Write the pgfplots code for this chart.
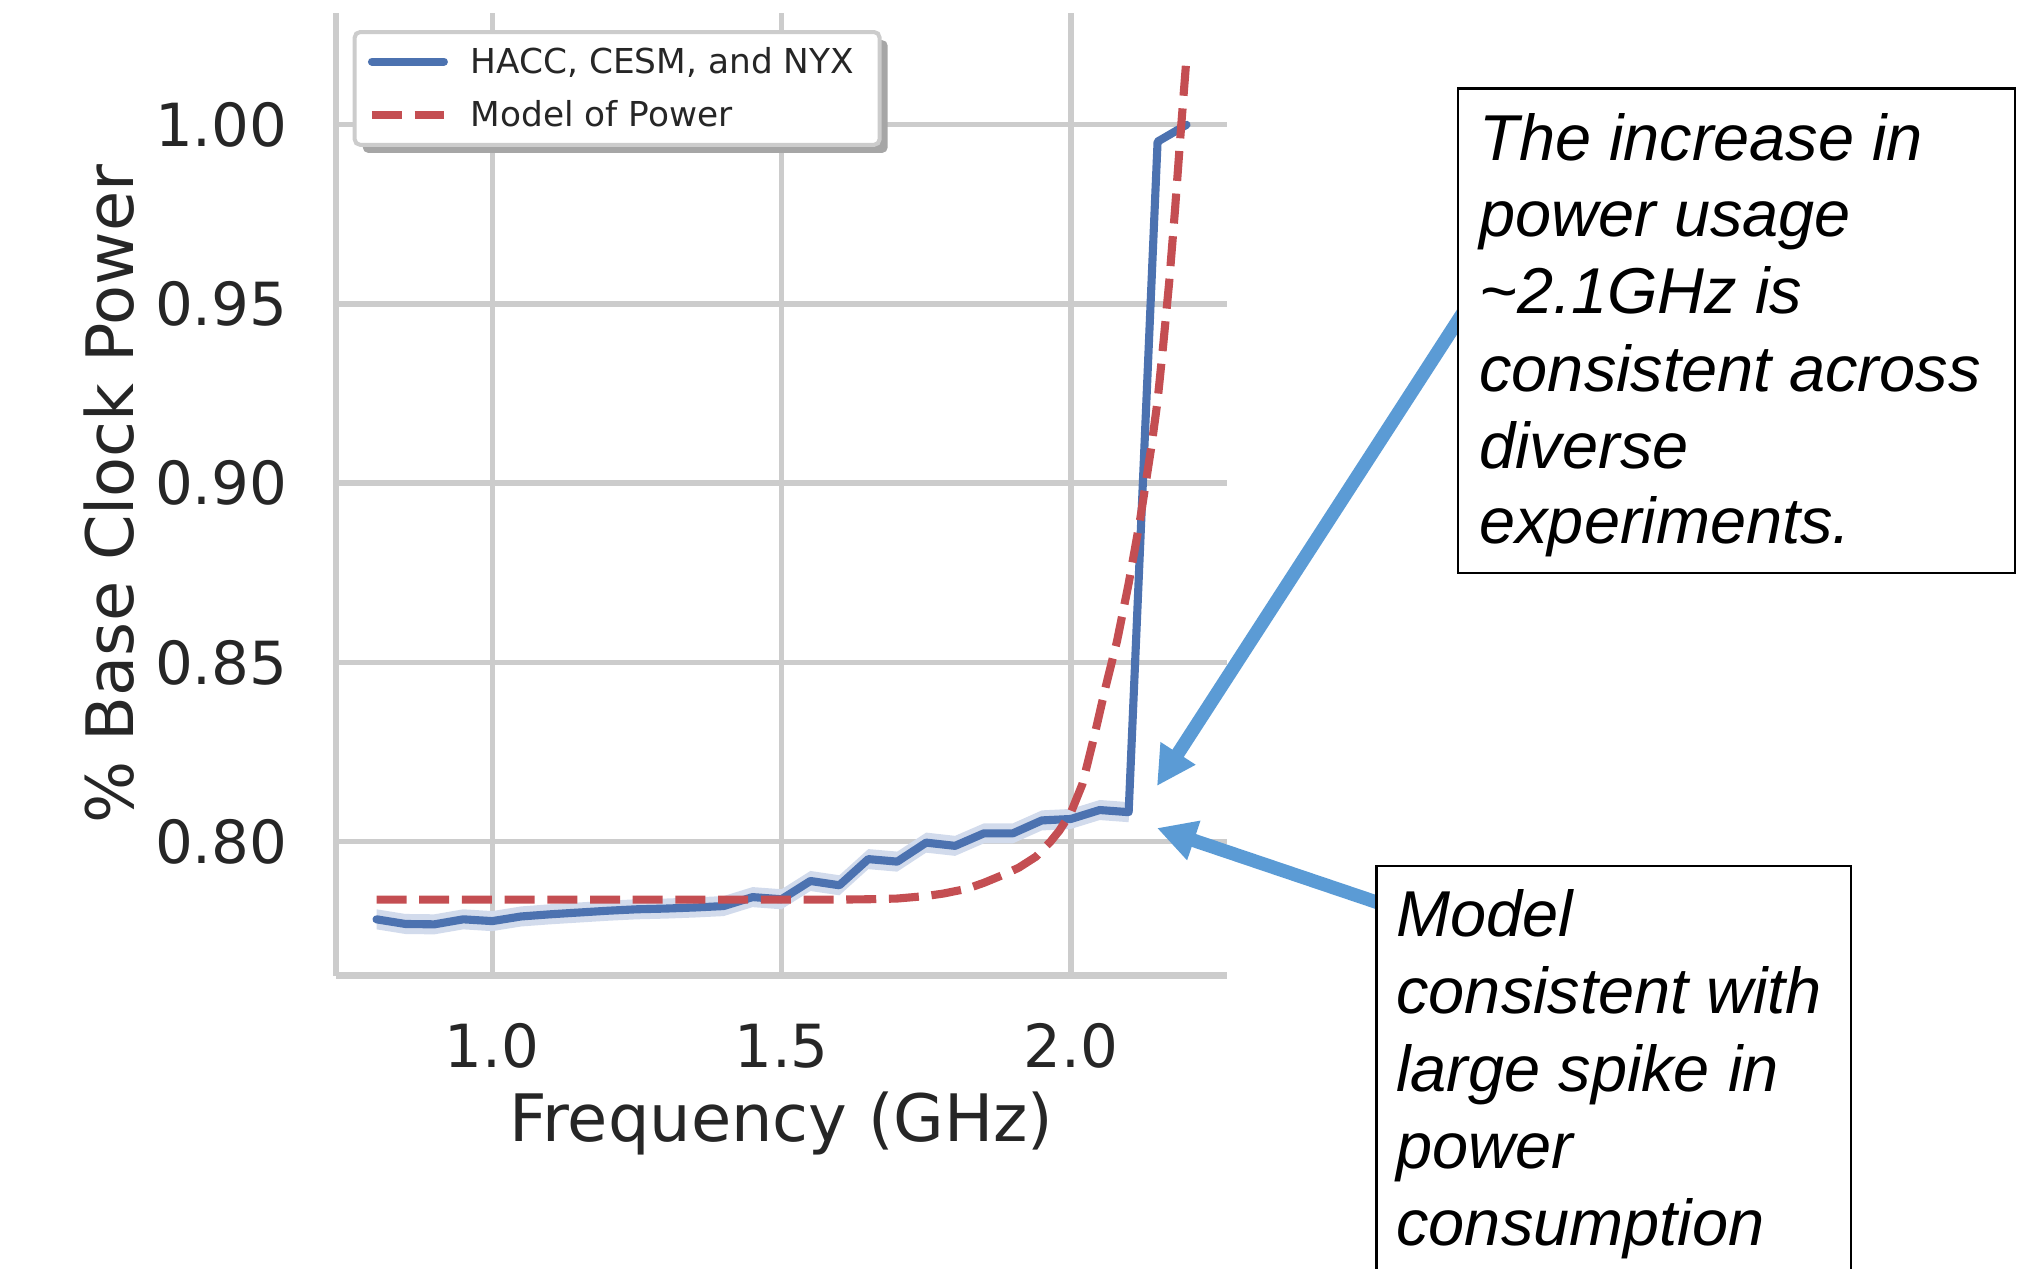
\documentclass[border=0pt]{standalone}
\usepackage{pgfplots}
\pgfplotsset{compat=1.18}
\usepackage{pgfplotstable}
\usepgfplotslibrary{fillbetween}
\usetikzlibrary{arrows.meta,shadows}
\usepackage{fontspec}
\setmainfont{DejaVu Sans}
\newfontfamily\annotfont{Liberation Sans}

\definecolor{sbblue}{HTML}{4C72B0}
\definecolor{sbred}{HTML}{C44E52}
\definecolor{gridc}{HTML}{CCCCCC}
\definecolor{txt}{HTML}{262626}
\definecolor{band}{HTML}{D2DBEC}
\definecolor{arrowc}{HTML}{5B9BD5}
\definecolor{shadowc}{HTML}{A6A6A6}

\makeatletter
\tikzset{nopre/.code={\let\tikz@preactions\pgfutil@empty}}
\makeatother

\pgfplotstableread{
x y lo hi
0.80 0.7783 0.7755 0.7811
0.85 0.7770 0.7742 0.7798
0.90 0.7769 0.7741 0.7797
0.95 0.7783 0.7755 0.7811
1.00 0.7778 0.7750 0.7806
1.05 0.7791 0.7763 0.7819
1.10 0.7797 0.7769 0.7825
1.15 0.7802 0.7774 0.7830
1.20 0.7807 0.7779 0.7835
1.25 0.7811 0.7783 0.7839
1.30 0.7813 0.7785 0.7841
1.35 0.7816 0.7788 0.7844
1.40 0.7820 0.7792 0.7848
1.45 0.7845 0.7817 0.7873
1.50 0.7839 0.7811 0.7867
1.55 0.7890 0.7862 0.7918
1.60 0.7878 0.7850 0.7906
1.65 0.7951 0.7923 0.7979
1.70 0.7944 0.7916 0.7972
1.75 0.7997 0.7969 0.8025
1.80 0.7988 0.7960 0.8016
1.85 0.8023 0.7995 0.8051
1.90 0.8023 0.7995 0.8051
1.95 0.8059 0.8031 0.8087
2.00 0.8063 0.8035 0.8091
2.05 0.8088 0.8060 0.8116
2.10 0.8082 0.8054 0.8110
2.15 0.9953 0.9943 0.9963
2.20 1.0000 0.9990 1.0010
}\measured

\pgfplotstableread{
x y
0.80 0.7838
1.00 0.7838
1.20 0.7838
1.40 0.7838
1.60 0.7838
1.65 0.7839
1.70 0.7841
1.75 0.7848
1.78 0.7855
1.82 0.7868
1.85 0.7885
1.88 0.7905
1.91 0.7927
1.94 0.7958
1.965 0.8000
1.98 0.8030
2.00 0.8080
2.02 0.8160
2.04 0.8290
2.06 0.8430
2.08 0.8560
2.10 0.8720
2.12 0.8900
2.14 0.9110
2.15 0.9230
2.16 0.9390
2.17 0.9560
2.18 0.9760
2.19 0.9980
2.20 1.0188
}\model

\begin{document}
\begin{tikzpicture}
\begin{axis}[
  at={(124.32bp,108.19bp)}, anchor=south west,
  scale only axis, width=329.67bp, height=356.16bp,
  xmin=0.73, xmax=2.27, ymin=0.7626, ymax=1.0312,
  axis lines*=left,
  axis line style={draw=gridc, line width=2.5bp},
  grid=major, major grid style={draw=gridc, line width=2bp},
  major tick length=0pt,
  xtick={1.0,1.5,2.0}, ytick={0.80,0.85,0.90,0.95,1.00},
  xticklabel={\pgfmathprintnumber[fixed,fixed zerofill,precision=1,assume math mode=true]{\tick}},
  yticklabel={\pgfmathprintnumber[fixed,fixed zerofill,precision=2,assume math mode=true]{\tick}},
  ticklabel style={font=\fontsize{22bp}{26bp}\selectfont, text=txt, inner sep=0pt},
  xticklabel style={anchor=north, yshift=-17.65bp},
  yticklabel style={anchor=east, xshift=-17.76bp},
  xlabel={Frequency (GHz)}, ylabel={\% Base Clock Power},
  every axis x label/.style={at={(axis description cs:0.5,-0.1726)}, anchor=base, font=\fontsize{24.2bp}{28bp}\selectfont, text=txt},
  every axis y label/.style={at={(axis description cs:-0.2275,0.5)}, rotate=90, anchor=base, font=\fontsize{24.2bp}{28bp}\selectfont, text=txt},
  legend cell align=left,
  legend image code/.code={\draw[nopre,#1] (0bp,0bp) -- (26.6bp,0bp);},
  legend style={
    at={(axis description cs:0.0187,0.9823)}, anchor=north west,
    draw=gridc, line width=1.5bp, fill=white, rounded corners=2bp,
    drop shadow={shadow xshift=3bp, shadow yshift=-3bp, fill=shadowc, opacity=1},
    inner xsep=4.9bp, inner ysep=6bp,
    font=\fontsize{12.7bp}{15bp}\selectfont, text=txt,
    row sep=10bp, column sep=8.5bp,
    nodes={inner sep=0pt, text height=9.26bp, text depth=0.6bp},
  },
]
\addplot[name path=hi, draw=none, forget plot] table[x=x,y=hi]{\measured};
\addplot[name path=lo, draw=none, forget plot] table[x=x,y=lo]{\measured};
\addplot[fill=band, draw=none, forget plot] fill between[of=hi and lo];
\addplot[sbblue, line width=3bp, line cap=round, line join=round] table[x=x,y=y]{\measured};
\addlegendentry{HACC, CESM, and NYX\hspace*{4.6bp}}
\addplot[sbred, line width=3bp, dash pattern=on 11.1bp off 4.7bp] table[x=x,y=y]{\model};
\addlegendentry{Model of Power}
\end{axis}

\begin{scope}[x=0.37bp,y=0.37bp]
\draw[arrowc, line width=5bp, -{Triangle[length=14.4bp,width=14.4bp]}] (1470,966) -- (1157,482);
\draw[arrowc, line width=5bp, -{Triangle[length=14.4bp,width=14.4bp]}] (1385,363) -- (1157,440);
\filldraw[fill=white, draw=black, line width=0.9bp] (1458.3,695.3) rectangle (2015,1179.7);
\filldraw[fill=white, draw=black, line width=0.9bp] (1376.4,-40) rectangle (1851,402);
\begin{scope}[every node/.style={anchor=base west, inner sep=0pt, font=\annotfont\itshape\fontsize{24bp}{28bp}\selectfont}]
\node at (1479,1108) {The increase in};
\node at (1479,1031.3) {power usage};
\node at (1479,954.7) {\textasciitilde2.1GHz is};
\node at (1479,876.3) {consistent across};
\node at (1479,799.7) {diverse};
\node at (1479,724.7) {experiments.};
\node at (1396,331.3) {Model};
\node at (1396,254.7) {consistent with};
\node at (1396,176.3) {large spike in};
\node at (1396,99.7) {power};
\node at (1396,23) {consumption};
\end{scope}
\end{scope}
\pgfresetboundingbox
\useasboundingbox (0,0) rectangle (746.66bp,469.16bp);
\end{tikzpicture}
\end{document}
